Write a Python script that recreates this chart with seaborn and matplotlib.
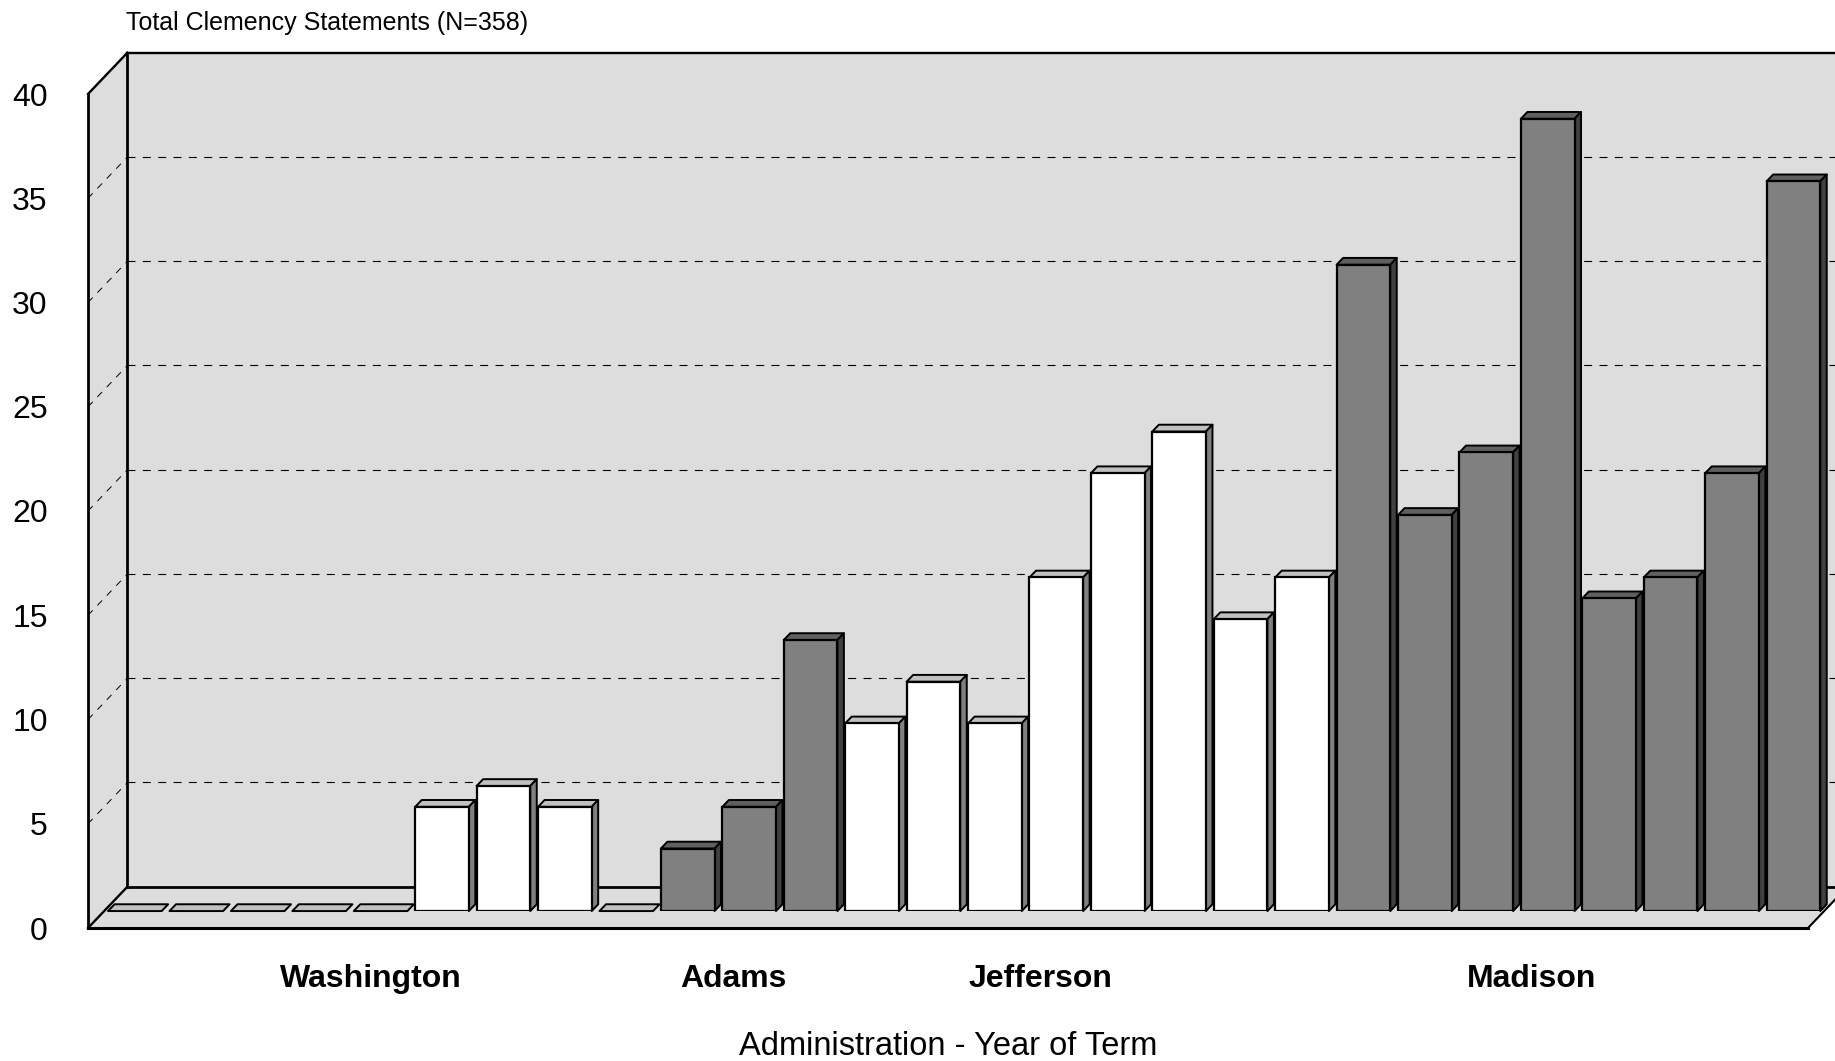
import matplotlib
matplotlib.use('Agg')
import matplotlib.pyplot as plt
import pandas as pd
import seaborn as sns
from matplotlib.patches import Polygon

# values per year of term
washington = [0, 0, 0, 0, 0, 5, 6, 5, 0]
adams = [3, 5, 13]
jefferson = [9, 11, 9, 16, 21, 23, 14, 16]
madison = [31, 19, 22, 38, 15, 16, 21, 35]

admin_names = ['Washington', 'Adams', 'Jefferson', 'Madison']
admin_ticks = [4.1, 10, 15, 23]
y_ticks = [0, 5, 10, 15, 20, 25, 30, 35, 40]

rows = []
for name, vals, shade in zip(admin_names, [washington, adams, jefferson, madison],
                             ['#FFFFFF', '#808080', '#FFFFFF', '#808080']):
    for i, v in enumerate(vals):
        rows.append({'term': f'{name} {i + 1}', 'statements': v, 'shade': shade})
df = pd.DataFrame(rows)

sns.set_style('white')
plt.rcParams['font.family'] = ['Liberation Sans', 'DejaVu Sans']
plt.rcParams['text.color'] = 'black'
plt.rcParams['axes.labelcolor'] = 'black'
plt.rcParams['xtick.color'] = 'black'
plt.rcParams['ytick.color'] = 'black'

W, H = 1835, 1061
fig = plt.figure(figsize=(W / 100, H / 100), dpi=100)

# front plane of the box, carries the axis text
left, bottom, pw, ph = 88, H - 928, 1720, 834
ax = fig.add_axes([left / W, bottom / H, pw / W, ph / H])
n = len(df)
x0, x1 = -0.5, n - 0.5
ax.set_xlim(x0, x1)
ax.set_ylim(0, 40)
ax.patch.set_visible(False)
sns.despine(ax=ax, left=True, bottom=True)

# box depth, from pixels into data units
dx = 39.4 / (pw / n)
dy = 41.3 / (ph / 40)
wall = '#DDDDDD'

ax.add_patch(Polygon([(x0 + dx, dy), (x0 + dx, 40 + dy), (x1 + dx, 40 + dy), (x1 + dx, dy)],
                     fc=wall, ec='none', clip_on=False, zorder=0))
ax.add_patch(Polygon([(x0, 0), (x0, 40), (x0 + dx, 40 + dy), (x0 + dx, dy)],
                     fc=wall, ec='none', clip_on=False, zorder=0))
ax.add_patch(Polygon([(x0, 0), (x1, 0), (x1 + dx, dy), (x0 + dx, dy)],
                     fc=wall, ec='none', clip_on=False, zorder=0))

# dashed grid on left and back walls
for v in y_ticks[1:-1]:
    ax.plot([x0, x0 + dx], [v, v + dy], color='black', lw=0.7, dashes=(7, 7), clip_on=False, zorder=1)
    ax.plot([x0 + dx, x1 + dx], [v + dy, v + dy], color='black', lw=0.8, dashes=(7.2, 6.6), clip_on=False, zorder=1)

# box outline
frame = dict(color='black', clip_on=False, zorder=2, solid_capstyle='projecting')
ax.plot([x0, x0], [0, 40], lw=2, **frame)
ax.plot([x0, x0 + dx], [40, 40 + dy], lw=1.7, **frame)
ax.plot([x0 + dx, x1 + dx], [40 + dy, 40 + dy], lw=1.7, **frame)
ax.plot([x0 + dx, x0 + dx], [dy, 40 + dy], lw=2, **frame)
ax.plot([x0 + dx, x1 + dx], [dy, dy], lw=2, **frame)
ax.plot([x0, x0 + dx], [0, dy], lw=1.7, **frame)
ax.plot([x0, x1], [0, 0], lw=2.2, **frame)
ax.plot([x1, x1 + dx], [0, dy], lw=1.5, **frame)

ax.set_yticks(y_ticks)
ax.tick_params(axis='y', length=0, pad=29, labelsize=23)
ax.set_xticks(admin_ticks)
ax.set_xticklabels(admin_names, fontsize=23, fontweight='bold')
ax.tick_params(axis='x', length=0, pad=26)
ax.set_xlabel('Administration - Year of Term', fontsize=23.5)
ax.xaxis.set_label_coords(0.5, -0.1235)
ax.set_ylabel('')

fig.text(126 / W, 1 - 23 / H, 'Total Clemency Statements (N=358)', fontsize=18, va='center', ha='left')

# bars stand part way into the box
shift = 0.41
ax_bar = fig.add_axes([(left + shift * 39.4) / W, (bottom + shift * 41.3) / H, pw / W, ph / H])
ax_bar.patch.set_visible(False)
sns.barplot(data=df, x='term', y='statements', hue='term', palette=list(df['shade']),
            dodge=False, width=0.873, saturation=1, edgecolor='black', linewidth=1.6,
            legend=False, ax=ax_bar)
ax_bar.set_xlim(x0, x1)
ax_bar.set_ylim(0, 40)
ax_bar.axis('off')

# 3D look: top and side faces built from each bar
bx = 6.5 / (pw / n)
by = 6.8 / (ph / 40)
bars = [b for c in ax_bar.containers for b in c]
for i, b in enumerate(bars):
    bl, bh, bw = b.get_x(), b.get_height(), b.get_width()
    gray = df['shade'].iloc[i] == '#808080'
    top_c, side_c = ('#606060', '#404040') if gray else ('#C0C0C0', '#808080')
    ax_bar.add_patch(Polygon([(bl, bh), (bl + bw, bh), (bl + bw + bx, bh + by), (bl + bx, bh + by)],
                             fc=top_c, ec='black', lw=1.4, joinstyle='round', clip_on=False, zorder=0.5))
    if bh > 0:
        ax_bar.add_patch(Polygon([(bl + bw, 0), (bl + bw + bx, by), (bl + bw + bx, bh + by), (bl + bw, bh)],
                                 fc=side_c, ec='black', lw=1.4, joinstyle='round', clip_on=False, zorder=0.5))
    else:
        b.set_visible(False)

fig.savefig('out.png', dpi=100)
